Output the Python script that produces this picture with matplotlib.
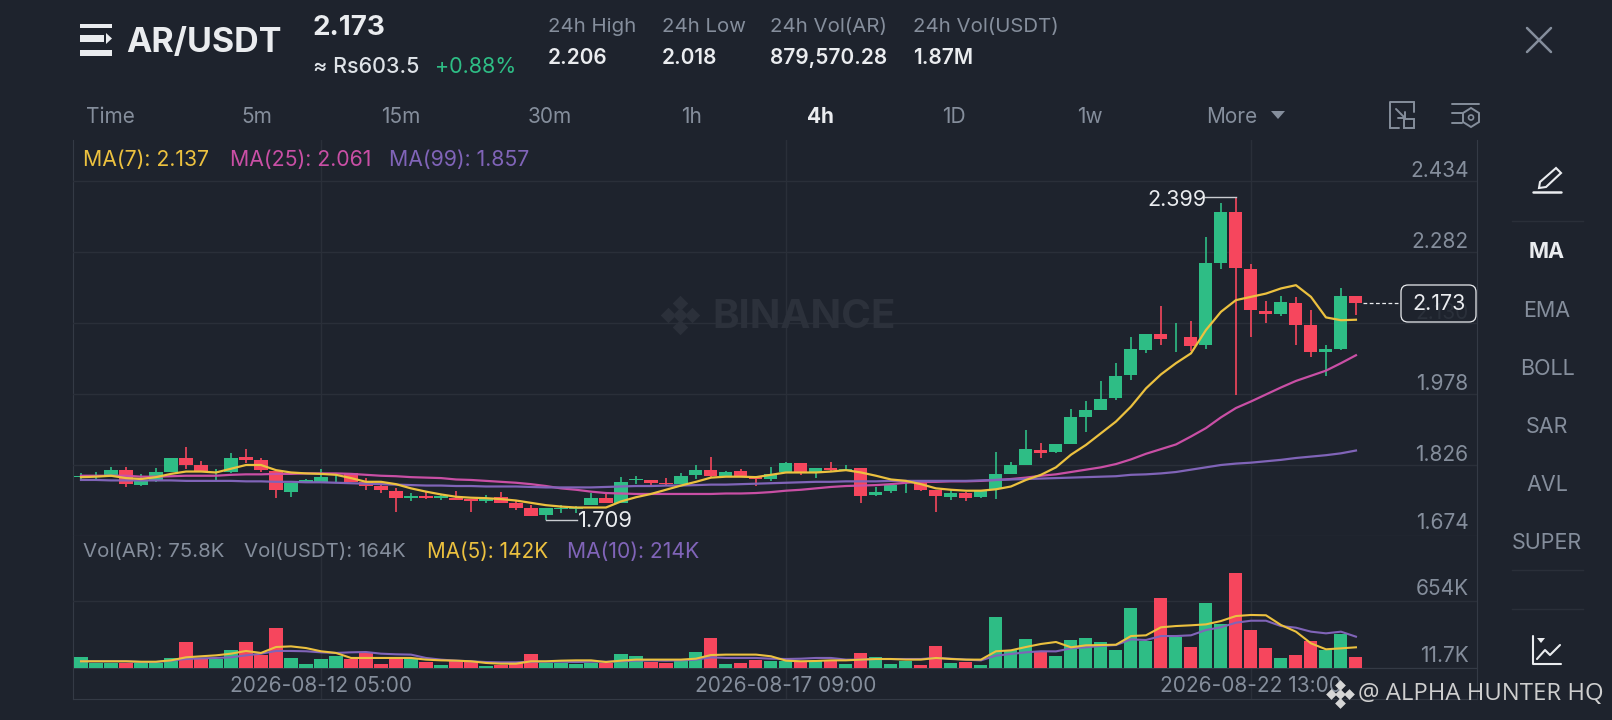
"""AR/USDT 4h candlestick screen, redrawn with matplotlib."""
import matplotlib
matplotlib.use('Agg')

import matplotlib.pyplot as plt
from matplotlib.patches import FancyBboxPatch, Polygon, Rectangle, Circle

plt.rcParams['font.family'] = ['Inter', 'Noto Sans', 'DejaVu Sans']

# --- Candles ---
opens = [1.800, 1.802, 1.805, 1.815, 1.784, 1.792, 1.810, 1.840, 1.827, 1.810,
         1.810, 1.843, 1.837, 1.814, 1.768, 1.789, 1.790, 1.800, 1.808, 1.790,
         1.781, 1.770, 1.755, 1.760, 1.755, 1.756, 1.753, 1.750, 1.758, 1.745,
         1.733, 1.718, 1.731, 1.731, 1.740, 1.755, 1.745, 1.793, 1.793, 1.788,
         1.785, 1.805, 1.816, 1.801, 1.813, 1.801, 1.795, 1.810, 1.831, 1.812,
         1.820, 1.815, 1.819, 1.762, 1.770, 1.789, 1.788, 1.773, 1.757, 1.767,
         1.757, 1.774, 1.807, 1.826, 1.858, 1.853, 1.870, 1.929, 1.943, 1.969,
         2.019, 2.072, 2.107, 2.099, 2.101, 2.082, 2.258, 2.368, 2.245, 2.156,
         2.149, 2.172, 2.126, 2.067, 2.074, 2.188]
highs = [1.808, 1.810, 1.821, 1.822, 1.807, 1.820, 1.840, 1.864, 1.835, 1.817,
         1.852, 1.860, 1.842, 1.815, 1.788, 1.796, 1.817, 1.805, 1.808, 1.798,
         1.790, 1.776, 1.766, 1.768, 1.764, 1.770, 1.753, 1.762, 1.768, 1.751,
         1.740, 1.733, 1.740, 1.738, 1.765, 1.763, 1.800, 1.803, 1.794, 1.798,
         1.808, 1.825, 1.844, 1.814, 1.818, 1.803, 1.822, 1.832, 1.831, 1.820,
         1.832, 1.827, 1.819, 1.778, 1.787, 1.794, 1.788, 1.773, 1.772, 1.769,
         1.773, 1.853, 1.832, 1.900, 1.874, 1.871, 1.945, 1.963, 2.005, 2.044,
         2.099, 2.107, 2.166, 2.129, 2.135, 2.315, 2.387, 2.399, 2.256, 2.178,
         2.188, 2.186, 2.158, 2.082, 2.205, 2.188]
lows = [1.795, 1.795, 1.803, 1.778, 1.781, 1.790, 1.810, 1.818, 1.810, 1.790,
        1.808, 1.830, 1.812, 1.755, 1.757, 1.788, 1.789, 1.788, 1.789, 1.773,
        1.765, 1.726, 1.750, 1.753, 1.751, 1.751, 1.726, 1.744, 1.745, 1.730,
        1.716, 1.709, 1.723, 1.723, 1.740, 1.744, 1.744, 1.785, 1.780, 1.782,
        1.785, 1.795, 1.801, 1.800, 1.801, 1.780, 1.792, 1.810, 1.804, 1.798,
        1.812, 1.813, 1.745, 1.760, 1.767, 1.767, 1.771, 1.725, 1.751, 1.750,
        1.755, 1.753, 1.806, 1.826, 1.840, 1.851, 1.870, 1.896, 1.943, 1.965,
        2.008, 2.065, 2.083, 2.067, 2.069, 2.075, 2.246, 1.976, 2.099, 2.129,
        2.144, 2.083, 2.057, 2.017, 2.072, 2.147]
closes = [1.803, 1.803, 1.815, 1.785, 1.794, 1.810, 1.840, 1.827, 1.812, 1.812,
          1.842, 1.836, 1.815, 1.772, 1.787, 1.793, 1.801, 1.801, 1.790, 1.782,
          1.773, 1.756, 1.760, 1.756, 1.760, 1.752, 1.750, 1.756, 1.745, 1.734,
          1.717, 1.733, 1.735, 1.735, 1.755, 1.745, 1.789, 1.797, 1.788, 1.785,
          1.803, 1.815, 1.802, 1.810, 1.803, 1.795, 1.807, 1.831, 1.810, 1.820,
          1.815, 1.818, 1.760, 1.769, 1.783, 1.790, 1.772, 1.760, 1.767, 1.755,
          1.773, 1.807, 1.826, 1.860, 1.851, 1.871, 1.928, 1.943, 1.968, 2.017,
          2.074, 2.107, 2.096, 2.101, 2.081, 2.258, 2.367, 2.247, 2.158, 2.149,
          2.174, 2.125, 2.067, 2.074, 2.188, 2.173]

# --- Price moving averages ---
ma7 = [1.800, 1.801, 1.803, 1.798, 1.796, 1.800, 1.807, 1.812, 1.812, 1.810,
       1.818, 1.826, 1.826, 1.815, 1.810, 1.808, 1.807, 1.805, 1.798, 1.790,
       1.790, 1.785, 1.776, 1.769, 1.763, 1.758, 1.756, 1.755, 1.753, 1.750,
       1.745, 1.740, 1.737, 1.735, 1.735, 1.735, 1.748, 1.757, 1.764, 1.773,
       1.782, 1.790, 1.799, 1.801, 1.801, 1.800, 1.805, 1.810, 1.810, 1.810,
       1.812, 1.815, 1.810, 1.803, 1.795, 1.792, 1.785, 1.776, 1.773, 1.771,
       1.771, 1.774, 1.780, 1.794, 1.805, 1.821, 1.848, 1.869, 1.894, 1.919,
       1.951, 1.990, 2.020, 2.044, 2.065, 2.115, 2.154, 2.179, 2.186, 2.193,
       2.204, 2.211, 2.186, 2.142, 2.136, 2.137]
ma25 = [1.803, 1.803, 1.803, 1.803, 1.801, 1.801, 1.802, 1.803, 1.803, 1.803,
        1.805, 1.806, 1.806, 1.807, 1.807, 1.808, 1.808, 1.808, 1.807, 1.805,
        1.803, 1.802, 1.800, 1.799, 1.798, 1.795, 1.794, 1.792, 1.790, 1.788,
        1.785, 1.781, 1.776, 1.773, 1.769, 1.766, 1.765, 1.764, 1.764, 1.764,
        1.764, 1.764, 1.764, 1.765, 1.765, 1.766, 1.768, 1.771, 1.773, 1.776,
        1.779, 1.781, 1.782, 1.783, 1.785, 1.788, 1.790, 1.790, 1.791, 1.791,
        1.792, 1.794, 1.796, 1.799, 1.803, 1.806, 1.811, 1.816, 1.821, 1.828,
        1.838, 1.850, 1.860, 1.870, 1.887, 1.905, 1.928, 1.948, 1.962, 1.977,
        1.992, 2.006, 2.017, 2.028, 2.044, 2.061]
ma99 = [1.794, 1.794, 1.793, 1.793, 1.793, 1.793, 1.793, 1.792, 1.792, 1.792,
        1.792, 1.791, 1.791, 1.790, 1.790, 1.789, 1.789, 1.788, 1.787, 1.786,
        1.785, 1.784, 1.783, 1.782, 1.782, 1.781, 1.781, 1.780, 1.780, 1.780,
        1.779, 1.778, 1.778, 1.778, 1.778, 1.779, 1.780, 1.781, 1.781, 1.782,
        1.782, 1.783, 1.784, 1.784, 1.785, 1.786, 1.787, 1.788, 1.789, 1.790,
        1.790, 1.791, 1.791, 1.791, 1.792, 1.792, 1.792, 1.792, 1.792, 1.792,
        1.793, 1.794, 1.795, 1.796, 1.797, 1.798, 1.799, 1.800, 1.801, 1.802,
        1.805, 1.806, 1.808, 1.811, 1.816, 1.821, 1.826, 1.829, 1.831, 1.834,
        1.837, 1.841, 1.844, 1.847, 1.851, 1.857]

# --- Volume, in thousands ---
volumes = [117, 60, 60, 60, 60, 60, 108, 261, 108, 98,
           187, 261, 140, 398, 104, 53, 98, 124, 98, 156,
           53, 98, 98, 66, 44, 76, 76, 34, 44, 60,
           143, 60, 60, 53, 60, 60, 143, 127, 66, 60,
           76, 168, 296, 50, 56, 89, 76, 76, 76, 76,
           85, 50, 152, 117, 53, 76, 40, 226, 56, 66,
           44, 498, 184, 293, 168, 127, 280, 299, 261, 184,
           584, 273, 686, 312, 210, 632, 433, 920, 376, 203,
           105, 136, 268, 184, 338, 114]
vol_ma5 = [76, 76, 76, 76, 72, 72, 85, 114, 124, 133,
           149, 175, 156, 213, 219, 203, 172, 156, 108, 108,
           108, 108, 108, 92, 85, 82, 76, 60, 53, 53,
           76, 76, 82, 85, 85, 69, 82, 92, 92, 92,
           92, 101, 136, 140, 140, 140, 124, 82, 76, 79,
           85, 85, 92, 98, 98, 92, 92, 108, 98, 92,
           92, 172, 181, 213, 242, 261, 210, 229, 232, 235,
           318, 325, 402, 414, 421, 430, 462, 510, 520, 517,
           424, 360, 248, 191, 200, 210]
vol_ma10 = [76, 76, 76, 76, 69, 69, 82, 98, 104, 108,
            114, 133, 149, 175, 175, 172, 162, 156, 162, 165,
            149, 143, 140, 108, 92, 82, 76, 69, 66, 66,
            72, 72, 72, 69, 72, 72, 76, 82, 85, 82,
            85, 92, 114, 108, 108, 108, 101, 98, 101, 108,
            108, 92, 92, 98, 98, 98, 98, 108, 101, 92,
            85, 130, 146, 162, 172, 171, 200, 210, 223, 232,
            286, 280, 318, 318, 325, 376, 402, 446, 465, 465,
            414, 398, 360, 344, 360, 312]

# --- Axis labels ---
price_ticks = [2.434, 2.282, 2.130, 1.978, 1.826, 1.674]
price_labels = ['2.434', '2.282', '2.130', '1.978', '1.826', '1.674']
vol_ticks = [654, 11.7]
vol_labels = ['654K', '11.7K']
date_positions = [16, 47, 78]
date_labels = ['2026-08-12 05:00', '2026-08-17 09:00', '2026-08-22 13:00']

# Colours
BG = '#1e232d'
GRID = '#2a2f39'
FRAME = '#343a45'
GREEN = '#2ebd85'
RED = '#f6465d'
YELLOW = '#ecc13f'
PINK = '#c94fa5'
PURPLE = '#8064b8'
GRAY = '#858e9c'
LIGHT = '#eaecef'

WIDTH, HEIGHT = 1612, 720
fig = plt.figure(figsize=(WIDTH / 100, HEIGHT / 100), dpi=100, facecolor=BG)


def pixel_axes(left, top, right, bottom, **kwargs):
    """Axes placed by pixel edges measured from the top left corner."""
    return fig.add_axes([left / WIDTH, 1 - bottom / HEIGHT,
                         (right - left) / WIDTH, (bottom - top) / HEIGHT], **kwargs)


x_limits = (-0.533, 93.07)

# Frame behind both panels: outer lines and the vertical grid
frame = pixel_axes(73, 140, 1477, 699, facecolor=BG, zorder=0)
frame.set_xlim(x_limits)
frame.set_yticks([])
frame.set_xticks(date_positions)
frame.set_xticklabels([])
frame.tick_params(length=0)
frame.grid(axis='x', color=GRID, lw=1)
frame.spines['top'].set_visible(False)
for side in ('left', 'right', 'bottom'):
    frame.spines[side].set_color(FRAME)
    frame.spines[side].set_linewidth(0.8)

# --- Price panel ---
ax = pixel_axes(73, 140, 1477, 536, facecolor='none', zorder=1)
ax.set_xlim(x_limits)
ax.set_ylim(1.674, 2.5218)
ax.set_xticks([])
ax.set_yticks(price_ticks)
ax.set_yticklabels([])
ax.tick_params(length=0)
ax.grid(axis='y', color=GRID, lw=1)
ax.set_axisbelow(True)
for spine in ax.spines.values():
    spine.set_visible(False)

idx = list(range(len(closes)))
colors = [GREEN if c >= o else RED for o, c in zip(opens, closes)]
body_bottom = [min(o, c) for o, c in zip(opens, closes)]
body_height = [abs(c - o) for o, c in zip(opens, closes)]
ax.vlines(idx, lows, highs, colors=colors, lw=1.2, zorder=3)
ax.bar(idx, body_height, 0.87, bottom=body_bottom, color=colors, zorder=3)
ax.plot(idx, ma7, color=YELLOW, lw=1.6, zorder=5)
ax.plot(idx, ma25, color=PINK, lw=1.6, zorder=4)
ax.plot(idx, ma99, color=PURPLE, lw=1.6, zorder=4)

for tick, text in zip(price_ticks, price_labels):
    # the lowest label sits a little closer to its line in the original
    rise = 2 if tick == price_ticks[-1] else 0
    ax.annotate(text, (1, tick), xycoords=('axes fraction', 'data'), xytext=(-6, rise),
                textcoords='offset points', ha='right', va='bottom', color=GRAY, fontsize=15)

# High and low markers
hi = highs.index(max(highs))
lo = lows.index(min(lows))
ax.plot([hi - 2.07, hi], [highs[hi], highs[hi]], color='#c9ccd1', lw=1, zorder=6)
ax.annotate(f'{highs[hi]:.3f}', (hi - 2.07, highs[hi]), xytext=(1.5, -2), textcoords='offset points',
            ha='right', va='center', color=LIGHT, fontsize=15.5, zorder=6)
ax.plot([lo, lo + 2.1], [lows[lo], lows[lo]], color='#c9ccd1', lw=1, zorder=6)
ax.annotate(f'{lows[lo]:.3f}', (lo + 2.1, lows[lo]), xytext=(0.5, -1), textcoords='offset points',
            ha='left', va='center', color=LIGHT, fontsize=15.8, zorder=6)

# Last price marker
ax.plot([idx[-1] + 0.45, idx[-1] + 2.95], [closes[-1], closes[-1]], color=LIGHT, lw=0.9,
        ls=(0, (3, 2)), zorder=6)

# --- Volume panel ---
ax_vol = pixel_axes(73, 536, 1477, 668, facecolor='none', zorder=1)
ax_vol.set_xlim(x_limits)
ax_vol.set_ylim(11.7, 1277)
ax_vol.set_yticks(vol_ticks)
ax_vol.set_yticklabels([])
ax_vol.set_xticks(date_positions)
ax_vol.set_xticklabels(date_labels, color=GRAY, fontsize=15)
ax_vol.tick_params(axis='both', length=0)
ax_vol.tick_params(axis='x', pad=6)
ax_vol.grid(axis='y', color=GRID, lw=1)
ax_vol.set_axisbelow(True)
for side in ('left', 'right', 'top'):
    ax_vol.spines[side].set_visible(False)
ax_vol.spines['bottom'].set_color(FRAME)
ax_vol.spines['bottom'].set_linewidth(0.8)

ax_vol.bar(idx, volumes, 0.87, color=colors, zorder=3)
ax_vol.plot(idx, vol_ma5, color=YELLOW, lw=1.5, zorder=5)
ax_vol.plot(idx, vol_ma10, color=PURPLE, lw=1.5, zorder=4)
for tick, text in zip(vol_ticks, vol_labels):
    ax_vol.annotate(text, (1, tick), xycoords=('axes fraction', 'data'), xytext=(-6, 1.5),
                    textcoords='offset points', ha='right', va='bottom', color=GRAY, fontsize=15)

# --- Screen furniture, drawn in pixel coordinates ---
ui = fig.add_axes([0, 0, 1, 1], facecolor='none', zorder=2)
ui.set_xlim(0, WIDTH)
ui.set_ylim(HEIGHT, 0)
ui.axis('off')


def label(x, y, text, color=GRAY, size=15, weight='normal', ha='left', **kwargs):
    ui.text(x, y, text, color=color, fontsize=size, fontweight=weight, ha=ha, va='center', **kwargs)


def stroke(xs, ys, color=GRAY, lw=1.5):
    ui.plot(xs, ys, color=color, lw=lw, solid_capstyle='round', solid_joinstyle='round')


# Menu icon and header
for top, bottom, right in ((24, 28, 112), (35, 42, 104), (50, 56, 112)):
    ui.add_patch(Rectangle((80, top), right - 80, bottom - top, color=LIGHT, lw=0))
ui.add_patch(Polygon([(106, 33), (112, 38.5), (106, 44)], color=LIGHT, lw=0))
label(126, 43, 'AR/USDT', LIGHT, 24.5, 'bold')
label(313, 28, '2.173', LIGHT, 20, 'bold')
label(313, 67, '≈ Rs603.5', '#dfe3e8', 15.5, 'medium')
label(435, 67, '+0.88%', GREEN, 15.5)

for x, head, value in ((548, '24h High', '2.206'), (662, '24h Low', '2.018'),
                       (770, '24h Vol(AR)', '879,570.28'), (913, '24h Vol(USDT)', '1.87M')):
    label(x, 27, head, GRAY, 14.7)
    label(x, 58, value, LIGHT, 15, 'semibold')

# Interval tabs
for x, tab in ((110, 'Time'), (257, '5m'), (401, '15m'), (550, '30m'), (691, '1h'),
               (954, '1D'), (1090, '1w'), (1232, 'More')):
    label(x, 117, tab, GRAY, 15, ha='center')
label(820, 117, '4h', LIGHT, 15, 'bold', ha='center')
ui.add_patch(Polygon([(1271, 111), (1285, 111), (1278, 119)], color=GRAY, lw=0))

# Panel legends
label(83, 160, 'MA(7): 2.137', YELLOW, 15.3)
label(230, 160, 'MA(25): 2.061', PINK, 15.3)
label(389, 160, 'MA(99): 1.857', PURPLE, 15.3)
label(83, 552, 'Vol(AR): 75.8K', GRAY, 14.7)
label(244, 552, 'Vol(USDT): 164K', GRAY, 14.7)
label(427, 552, 'MA(5): 142K', YELLOW, 14.9)
label(567, 552, 'MA(10): 214K', PURPLE, 15.2)

# Last price box
ui.add_patch(FancyBboxPatch((1403, 287), 71, 33, boxstyle='round,pad=2,rounding_size=7',
                            facecolor=BG + 'e0', edgecolor=LIGHT, lw=0.9))
label(1439, 304, '2.173', LIGHT, 15.5, ha='center')

# Close cross
stroke([1527, 1551], [28, 52], GRAY, 1.8)
stroke([1527, 1551], [52, 28], GRAY, 1.8)

# Fullscreen and settings icons
stroke([1390, 1390, 1414], [128, 102, 102], GRAY, 1.4)
stroke([1414, 1414], [102, 112], GRAY, 1.4)
stroke([1390, 1399], [128, 128], GRAY, 1.4)
ui.add_patch(Rectangle((1404, 119), 10, 9, fill=False, edgecolor=GRAY, lw=1.4))
stroke([1396, 1405], [109, 118], GRAY, 1.4)
stroke([1405, 1405, 1398], [112, 118, 118], GRAY, 1.4)
stroke([1452, 1479], [104, 104], GRAY, 1.4)
stroke([1452, 1462], [113, 113], GRAY, 1.4)
stroke([1452, 1462], [123, 123], GRAY, 1.4)
ui.add_patch(Polygon([(1471, 108), (1479, 113), (1479, 122), (1471, 127), (1463, 122), (1463, 113)],
                     fill=False, edgecolor=GRAY, lw=1.4))
ui.add_patch(Circle((1471, 117.5), 2.5, fill=False, edgecolor=GRAY, lw=1.2))

# Indicator sidebar
ui.add_patch(Polygon([(1556, 168), (1561, 173), (1546, 187), (1539, 188), (1540, 182)],
                     fill=False, edgecolor=LIGHT, lw=1.5))
stroke([1533, 1561], [192, 192], LIGHT, 1.8)
for y in (221, 570, 609):
    ui.plot([1512, 1583], [y, y], color=GRID, lw=1)
label(1547, 252, 'MA', LIGHT, 15.5, 'bold', ha='center')
for y, name in ((311, 'EMA'), (369, 'BOLL'), (427, 'SAR'), (485, 'AVL'), (543, 'SUPER')):
    label(1547, y, name, GRAY, 15.5, ha='center')
stroke([1533, 1533, 1561], [636, 664, 664], LIGHT, 1.5)
stroke([1537, 1545, 1550, 1560], [659, 650, 655, 645], LIGHT, 1.5)
ui.add_patch(Polygon([(1537, 638), (1545, 638), (1541, 643)], color=LIGHT, lw=0))

# Exchange watermark behind the candles, credit on top
for x, y in ((680, 303), (680, 327), (668, 315), (692, 315), (680, 315)):
    ui.scatter([x], [y], marker='D', s=62, color='#2b303a', zorder=0, lw=0)
label(712, 318, 'BINANCE', '#2c313b', 29, 'bold', zorder=0)

for x, y, s in ((1340, 685, 30), (1340, 703, 30), (1331, 694, 30), (1349, 694, 30), (1340, 694, 30)):
    ui.scatter([x], [y], marker='D', s=s, color='#d6d6d6', lw=0)
label(1358, 694, '@ ALPHA HUNTER HQ', '#cfcfcf', 17.2, family=['Open Sans', 'DejaVu Sans'])

fig.savefig('out.png', dpi=100, facecolor=BG)
